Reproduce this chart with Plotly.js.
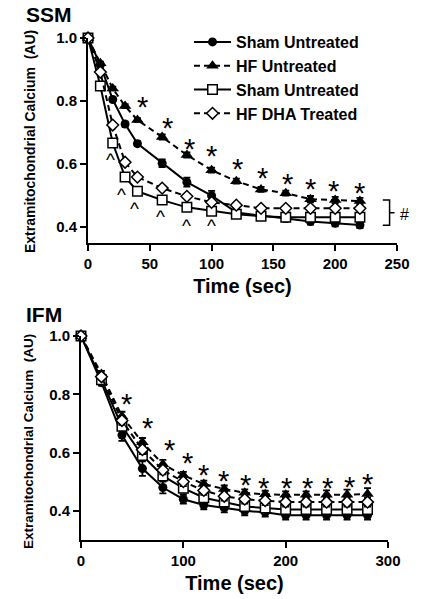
<!DOCTYPE html>
<html>
<head>
<meta charset="utf-8">
<script src="https://cdn.plot.ly/plotly-3.0.1.min.js"></script>
<style>
html,body{margin:0;padding:0;background:#fff;}
#chart{width:429px;height:599px;}
</style>
</head>
<body>
<div id="chart"></div>
<script>
// ---------- SSM panel data ----------
var ssmTime = [0, 10, 20, 30, 40, 60, 80, 100, 120, 140, 160, 180, 200, 220];
var ssmShamUntreated    = [1.0, 0.915, 0.805, 0.727, 0.665, 0.603, 0.543, 0.500, 0.447, 0.437, 0.428, 0.418, 0.413, 0.407];
var ssmShamUntreatedErr = [0, 0.005, 0.006, 0.008, 0.008, 0.012, 0.014, 0.015, 0.010, 0.010, 0.010, 0.010, 0.010, 0.010];
var ssmHFUntreated      = [1.0, 0.920, 0.840, 0.784, 0.740, 0.686, 0.629, 0.581, 0.546, 0.520, 0.508, 0.489, 0.486, 0.483];
var ssmHFUntreatedErr   = [0, 0.005, 0.006, 0.006, 0.006, 0.008, 0.008, 0.008, 0.008, 0.008, 0.008, 0.010, 0.010, 0.010];
var ssmShamUntreated2   = [1.0, 0.848, 0.667, 0.559, 0.514, 0.486, 0.463, 0.451, 0.441, 0.435, 0.432, 0.432, 0.432, 0.432];
var ssmShamUntreated2Err= [0, 0.005, 0.006, 0.006, 0.006, 0.006, 0.006, 0.006, 0.008, 0.008, 0.010, 0.010, 0.010, 0.010];
var ssmHFDHA            = [1.0, 0.892, 0.724, 0.606, 0.559, 0.524, 0.498, 0.479, 0.470, 0.460, 0.460, 0.460, 0.460, 0.460];
var ssmHFDHAErr         = [0, 0.005, 0.006, 0.006, 0.006, 0.006, 0.006, 0.006, 0.006, 0.006, 0.006, 0.006, 0.006, 0.006];
var ssmStarX  = [44, 64, 82.5, 100.3, 120.6, 140.8, 161, 180.4, 199, 220];
var ssmStarY  = [0.80, 0.733, 0.667, 0.644, 0.603, 0.575, 0.556, 0.54, 0.533, 0.527];
var ssmCaretX = [17.8, 27.5, 38, 58.3, 79.3, 100.3];
var ssmCaretY = [0.629, 0.517, 0.473, 0.448, 0.419, 0.419];
var ssmXTicks = [0, 50, 100, 150, 200, 250];
var yTicks = [0.4, 0.6, 0.8, 1.0];

// ---------- IFM panel data ----------
var ifmTime = [0, 20, 40, 60, 80, 100, 120, 140, 160, 180, 200, 220, 240, 260, 280];
var ifmShamUntreated    = [1.0, 0.840, 0.660, 0.545, 0.480, 0.440, 0.420, 0.410, 0.400, 0.395, 0.385, 0.385, 0.385, 0.385, 0.385];
var ifmShamUntreatedErr = [0, 0.010, 0.020, 0.025, 0.020, 0.015, 0.015, 0.015, 0.015, 0.015, 0.015, 0.015, 0.015, 0.015, 0.015];
var ifmHFUntreated      = [1.0, 0.870, 0.725, 0.635, 0.560, 0.522, 0.492, 0.475, 0.462, 0.457, 0.455, 0.455, 0.455, 0.455, 0.458];
var ifmHFUntreatedErr   = [0, 0.010, 0.015, 0.015, 0.015, 0.012, 0.012, 0.012, 0.012, 0.012, 0.012, 0.012, 0.015, 0.018, 0.020];
var ifmShamUntreated2   = [1.0, 0.850, 0.690, 0.590, 0.520, 0.478, 0.445, 0.430, 0.415, 0.410, 0.405, 0.405, 0.405, 0.405, 0.405];
var ifmShamUntreated2Err= [0, 0.010, 0.015, 0.015, 0.015, 0.015, 0.015, 0.015, 0.015, 0.015, 0.015, 0.015, 0.015, 0.015, 0.015];
var ifmHFDHA            = [1.0, 0.860, 0.710, 0.610, 0.540, 0.500, 0.470, 0.450, 0.440, 0.435, 0.430, 0.430, 0.430, 0.430, 0.430];
var ifmHFDHAErr         = [0, 0.010, 0.015, 0.015, 0.015, 0.015, 0.015, 0.015, 0.015, 0.015, 0.015, 0.015, 0.015, 0.015, 0.015];
var ifmStarX = [44, 64.5, 86, 104, 120, 139, 161, 178, 201, 221, 241, 262, 280];
var ifmStarY = [0.788, 0.706, 0.63, 0.585, 0.544, 0.524, 0.51, 0.50, 0.50, 0.50, 0.50, 0.503, 0.513];
var ifmXTicks = [0, 100, 200, 300];

var seriesNames = ["Sham Untreated", "HF Untreated", "Sham Untreated", "HF DHA Treated"];
var yTitle = "Extramitochondrial Calcium&nbsp; (AU)";

var FONT = '"Liberation Sans", Arial, Helvetica, sans-serif';
var DASH = '6px,4px';

var styles = [
  {symbol: 'circle', size: 9, color: '#000', lineW: 0, dash: 'solid'},
  {symbol: 'triangle-up', size: 11, color: '#000', lineW: 0, dash: DASH},
  {symbol: 'square', size: 9.5, color: '#fff', lineW: 1.5, dash: 'solid'},
  {symbol: 'diamond', size: 9, color: '#fff', lineW: 1.5, dash: DASH}
];

function mk(x, y, err, idx, xa, ya, showLeg) {
  var s = styles[idx];
  return {
    type: 'scatter', mode: 'lines+markers',
    x: x, y: y, xaxis: xa, yaxis: ya,
    name: seriesNames[idx], showlegend: showLeg,
    cliponaxis: false,
    line: {color: '#000', width: 2, dash: s.dash},
    marker: {symbol: s.symbol, size: s.size, color: s.color, line: {color: '#000', width: s.lineW}},
    error_y: {type: 'data', array: err, visible: true, color: '#000', thickness: 1.8, width: 3.5}
  };
}

var data = [
  mk(ssmTime, ssmShamUntreated, ssmShamUntreatedErr, 0, 'x', 'y', true),
  mk(ssmTime, ssmHFUntreated, ssmHFUntreatedErr, 1, 'x', 'y', true),
  mk(ssmTime, ssmShamUntreated2, ssmShamUntreated2Err, 2, 'x', 'y', true),
  mk(ssmTime, ssmHFDHA, ssmHFDHAErr, 3, 'x', 'y', true),
  mk(ifmTime, ifmShamUntreated, ifmShamUntreatedErr, 0, 'x2', 'y2', false),
  mk(ifmTime, ifmHFUntreated, ifmHFUntreatedErr, 1, 'x2', 'y2', false),
  mk(ifmTime, ifmShamUntreated2, ifmShamUntreated2Err, 2, 'x2', 'y2', false),
  mk(ifmTime, ifmHFDHA, ifmHFDHAErr, 3, 'x2', 'y2', false)
];

var annotations = [];
ssmStarX.forEach(function (x, i) {
  annotations.push({x: x, y: ssmStarY[i], xref: 'x', yref: 'y', text: '*', showarrow: false,
    font: {family: FONT, size: 29, color: '#000'}, yshift: -6});
});
ssmCaretX.forEach(function (x, i) {
  annotations.push({x: x, y: ssmCaretY[i], xref: 'x', yref: 'y', text: '^', showarrow: false,
    font: {family: FONT, size: 19, color: '#000'}, yshift: -4});
});
ifmStarX.forEach(function (x, i) {
  annotations.push({x: x, y: ifmStarY[i], xref: 'x2', yref: 'y2', text: '*', showarrow: false,
    font: {family: FONT, size: 29, color: '#000'}, yshift: -6});
});
annotations.push({x: 398 / 429, y: 1 - 214 / 599, xref: 'paper', yref: 'paper', text: '#', showarrow: false,
  xanchor: 'left', yanchor: 'middle', font: {family: FONT, size: 16, color: '#000'}});
annotations.push({x: 24 / 429, y: 1 - 1 / 599, xref: 'paper', yref: 'paper', text: 'SSM', showarrow: false,
  xanchor: 'left', yanchor: 'top', font: {family: FONT, size: 21, color: '#000', weight: 'bold'}});
annotations.push({x: 24 / 429, y: 1 - 301 / 599, xref: 'paper', yref: 'paper', text: 'IFM', showarrow: false,
  xanchor: 'left', yanchor: 'top', font: {family: FONT, size: 21, color: '#000', weight: 'bold'}});
// y-axis titles (rotated)
annotations.push({x: 30 / 429, y: 1 - 142 / 599, xref: 'paper', yref: 'paper', text: yTitle, showarrow: false,
  textangle: -90, xanchor: 'center', yanchor: 'middle', font: {family: FONT, size: 14, color: '#000', weight: 'bold'}});
annotations.push({x: 28 / 429, y: 1 - 442 / 599, xref: 'paper', yref: 'paper', text: yTitle, showarrow: false,
  textangle: -90, xanchor: 'center', yanchor: 'middle', font: {family: FONT, size: 13.5, color: '#000', weight: 'bold'}});

function xAxis(domain, range, ticks, anchor) {
  return {
    domain: domain, range: range, anchor: anchor, tickvals: ticks,
    showline: true, linewidth: 2, linecolor: '#000', ticks: 'outside', ticklen: 6, tickwidth: 2, tickcolor: '#000',
    showgrid: false, zeroline: false, fixedrange: true,
    tickfont: {family: FONT, size: 15, color: '#000', weight: 'bold'},
    title: {text: 'Time (sec)', standoff: 8, font: {family: FONT, size: 20, color: '#000', weight: 'bold'}}
  };
}
function yAxis(domain, range, anchor) {
  return {
    domain: domain, range: range, anchor: anchor, tickvals: yTicks, tickformat: '.1f',
    showline: true, linewidth: 2, linecolor: '#000', ticks: 'outside', ticklen: 6, tickwidth: 2, tickcolor: '#000',
    showgrid: false, zeroline: false, fixedrange: true,
    tickfont: {family: FONT, size: 15, color: '#000', weight: 'bold'}
  };
}

var layout = {
  width: 429, height: 599,
  margin: {l: 0, r: 0, t: 0, b: 0, pad: 0},
  paper_bgcolor: '#fff', plot_bgcolor: '#fff',
  font: {family: FONT, color: '#000'},
  showlegend: true,
  legend: {x: 189 / 429, y: 1 - 25 / 599, xanchor: 'left', yanchor: 'top', bgcolor: 'rgba(0,0,0,0)',
    itemwidth: 37, font: {family: FONT, size: 16, color: '#000', weight: 'bold'}, tracegroupgap: 0},
  xaxis: xAxis([88 / 429, 397 / 429], [0, 250], ssmXTicks, 'y'),
  yaxis: yAxis([1 - 243 / 599, 1 - 38 / 599], [0.35, 1.0], 'x'),
  xaxis2: xAxis([81 / 429, 388 / 429], [0, 300], ifmXTicks, 'y2'),
  yaxis2: yAxis([1 - 540 / 599, 1 - 336 / 599], [0.3, 1.0], 'x2'),
  annotations: annotations,
  shapes: [{type: 'path', xref: 'x', yref: 'y',
    path: 'M 238.5,0.486 L 244,0.486 L 244,0.406 L 238.5,0.406 M 244,0.446 L 248,0.446',
    line: {color: '#000', width: 1.5}}]
};

Plotly.newPlot('chart', data, layout, {staticPlot: true, displayModeBar: false});
</script>
</body>
</html>
